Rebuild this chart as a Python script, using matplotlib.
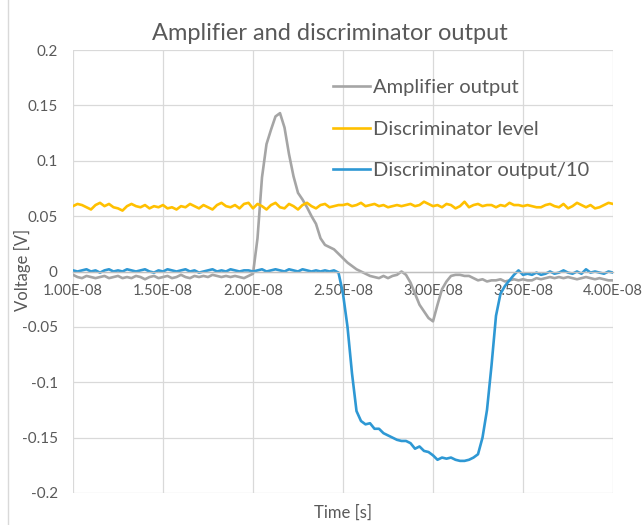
import numpy as np
import matplotlib
matplotlib.use("Agg")
import matplotlib.pyplot as plt
from matplotlib.lines import Line2D
from matplotlib.ticker import FuncFormatter, MultipleLocator

plt.rcParams['font.family'] = ['Lato', 'DejaVu Sans']

# sample times, 0.25 ns steps from 10 ns to 40 ns
time_s = np.arange(121) * 0.025e-8 + 1.0e-8

amplifier = [
    -0.003, -0.005, -0.006, -0.004, -0.005, -0.006, -0.005, -0.004, -0.006, -0.005,
    -0.004, -0.006, -0.005, -0.006, -0.004, -0.005, -0.007, -0.005, -0.004, -0.006,
    -0.005, -0.004, -0.006, -0.005, -0.003, -0.005, -0.006, -0.004, -0.005, -0.004,
    -0.005, -0.003, -0.004, -0.005, -0.004, -0.005, -0.004, -0.005, -0.006, -0.004,
    -0.002, 0.030, 0.085, 0.115, 0.128, 0.140, 0.143, 0.130, 0.106, 0.086,
    0.071, 0.065, 0.058, 0.050, 0.043, 0.030, 0.024, 0.022, 0.020, 0.016,
    0.012, 0.008, 0.005, 0.002, 0.000, -0.002, -0.004, -0.005, -0.006, -0.004,
    -0.006, -0.004, -0.003, 0.000, -0.003, -0.010, -0.020, -0.030, -0.036, -0.042,
    -0.045, -0.030, -0.016, -0.009, -0.004, -0.003, -0.003, -0.004, -0.004, -0.006,
    -0.008, -0.007, -0.009, -0.008, -0.008, -0.007, -0.009, -0.008, -0.007, -0.008,
    -0.007, -0.008, -0.008, -0.006, -0.007, -0.006, -0.005, -0.006, -0.005, -0.006,
    -0.005, -0.006, -0.007, -0.006, -0.005, -0.006, -0.007, -0.006, -0.007, -0.008,
    -0.008,
]

disc_level = [
    0.059, 0.061, 0.060, 0.058, 0.056, 0.060, 0.062, 0.059, 0.061, 0.058,
    0.057, 0.055, 0.059, 0.061, 0.059, 0.058, 0.060, 0.057, 0.059, 0.058,
    0.060, 0.057, 0.058, 0.056, 0.059, 0.058, 0.061, 0.059, 0.057, 0.060,
    0.058, 0.056, 0.060, 0.062, 0.059, 0.058, 0.060, 0.057, 0.061, 0.062,
    0.057, 0.061, 0.059, 0.056, 0.060, 0.062, 0.058, 0.057, 0.061, 0.059,
    0.056, 0.060, 0.062, 0.059, 0.057, 0.060, 0.061, 0.058, 0.059, 0.060,
    0.060, 0.061, 0.059, 0.060, 0.062, 0.059, 0.060, 0.061, 0.059, 0.060,
    0.058, 0.059, 0.060, 0.059, 0.060, 0.061, 0.059, 0.060, 0.063, 0.061,
    0.059, 0.060, 0.058, 0.061, 0.060, 0.057, 0.059, 0.063, 0.058, 0.060,
    0.061, 0.059, 0.060, 0.060, 0.058, 0.060, 0.059, 0.062, 0.060, 0.060,
    0.059, 0.060, 0.059, 0.058, 0.058, 0.060, 0.061, 0.059, 0.058, 0.061,
    0.057, 0.059, 0.062, 0.060, 0.058, 0.060, 0.057, 0.058, 0.060, 0.062,
    0.061,
]

disc_output = [
    0.001, 0.000, 0.001, 0.002, 0.000, 0.001, -0.001, 0.001, 0.002, 0.000,
    0.001, 0.000, 0.002, 0.001, 0.000, 0.001, 0.002, 0.000, -0.001, 0.001,
    0.000, 0.002, 0.001, 0.000, 0.001, 0.002, 0.000, 0.001, -0.001, 0.000,
    0.001, 0.002, 0.000, 0.001, 0.000, 0.002, 0.001, 0.000, 0.001, 0.001,
    0.000, 0.001, 0.002, 0.000, 0.001, 0.002, 0.001, 0.000, 0.002, 0.001,
    0.000, 0.002, 0.001, 0.000, 0.001, 0.000, 0.001, 0.000, 0.001, -0.001,
    -0.020, -0.050, -0.092, -0.126, -0.135, -0.138, -0.137, -0.142, -0.142, -0.146,
    -0.148, -0.150, -0.152, -0.153, -0.153, -0.155, -0.160, -0.158, -0.162, -0.163,
    -0.166, -0.170, -0.168, -0.169, -0.168, -0.170, -0.171, -0.171, -0.170, -0.168,
    -0.165, -0.150, -0.125, -0.085, -0.040, -0.020, -0.013, -0.008, -0.003, 0.001,
    -0.003, -0.002, -0.003, -0.001, -0.003, -0.002, 0.000, -0.002, -0.001, 0.001,
    -0.001, -0.002, 0.000, -0.002, 0.002, -0.001, 0.000, -0.001, -0.002, 0.000,
    -0.001,
]

labels = ["Amplifier output", "Discriminator level", "Discriminator output/10"]
colors = ["#a5a5a5", "#ffc000", "#2e98d4"]
txt = "#595959"

fig = plt.figure(figsize=(6.43, 5.25), dpi=100)
ax = fig.add_axes([73 / 643, 1 - 493 / 525, 540 / 643, 443 / 525])

for ys, lab, c in zip([amplifier, disc_level, disc_output], labels, colors):
    ax.plot(time_s, ys, color=c, lw=1.9, label=lab, solid_joinstyle='round')

ax.set_xlim(1.0e-8, 4.0e-8)
ax.set_ylim(-0.2, 0.2)
ax.xaxis.set_major_locator(MultipleLocator(0.5e-8))
ax.yaxis.set_major_locator(MultipleLocator(0.05))
ax.xaxis.set_major_formatter(FuncFormatter(lambda v, p: f"{v:.2E}"))
ax.yaxis.set_major_formatter(FuncFormatter(lambda v, p: f"{v:g}" if abs(v) > 1e-9 else "0"))

ax.grid(True, color="#d9d9d9", lw=0.9)
ax.set_axisbelow(True)
for s in ["top", "right", "left"]:
    ax.spines[s].set_visible(False)
ax.spines["bottom"].set_position(("data", 0))
ax.spines["bottom"].set_color("#bfbfbf")
ax.spines["bottom"].set_linewidth(1.0)
ax.tick_params(length=0, labelsize=10.5, labelcolor=txt)
ax.tick_params(axis="x", pad=9)
ax.tick_params(axis="y", labelsize=11, pad=11)

fig.text(330 / 643, 1 - 33 / 525, "Amplifier and discriminator output",
         ha="center", va="center", fontsize=17, color=txt)
fig.text(343 / 643, 1 - 513 / 525, "Time [s]", ha="center", va="center",
         fontsize=12, color=txt)
fig.text(22 / 643, 1 - 270 / 525, "Voltage [V]", ha="center", va="center",
         rotation=90, fontsize=12, color=txt)

ax.legend(loc="upper left", bbox_to_anchor=(0.481, 0.934), frameon=False,
          fontsize=14.5, labelcolor=txt, handlelength=1.85, handletextpad=0.15,
          labelspacing=1.2, borderaxespad=0, borderpad=0)

# chart area border on the left edge
fig.add_artist(Line2D([8 / 643, 8 / 643], [0, 1], color="#d9d9d9", lw=1.0))

fig.savefig("out.png", dpi=100)
